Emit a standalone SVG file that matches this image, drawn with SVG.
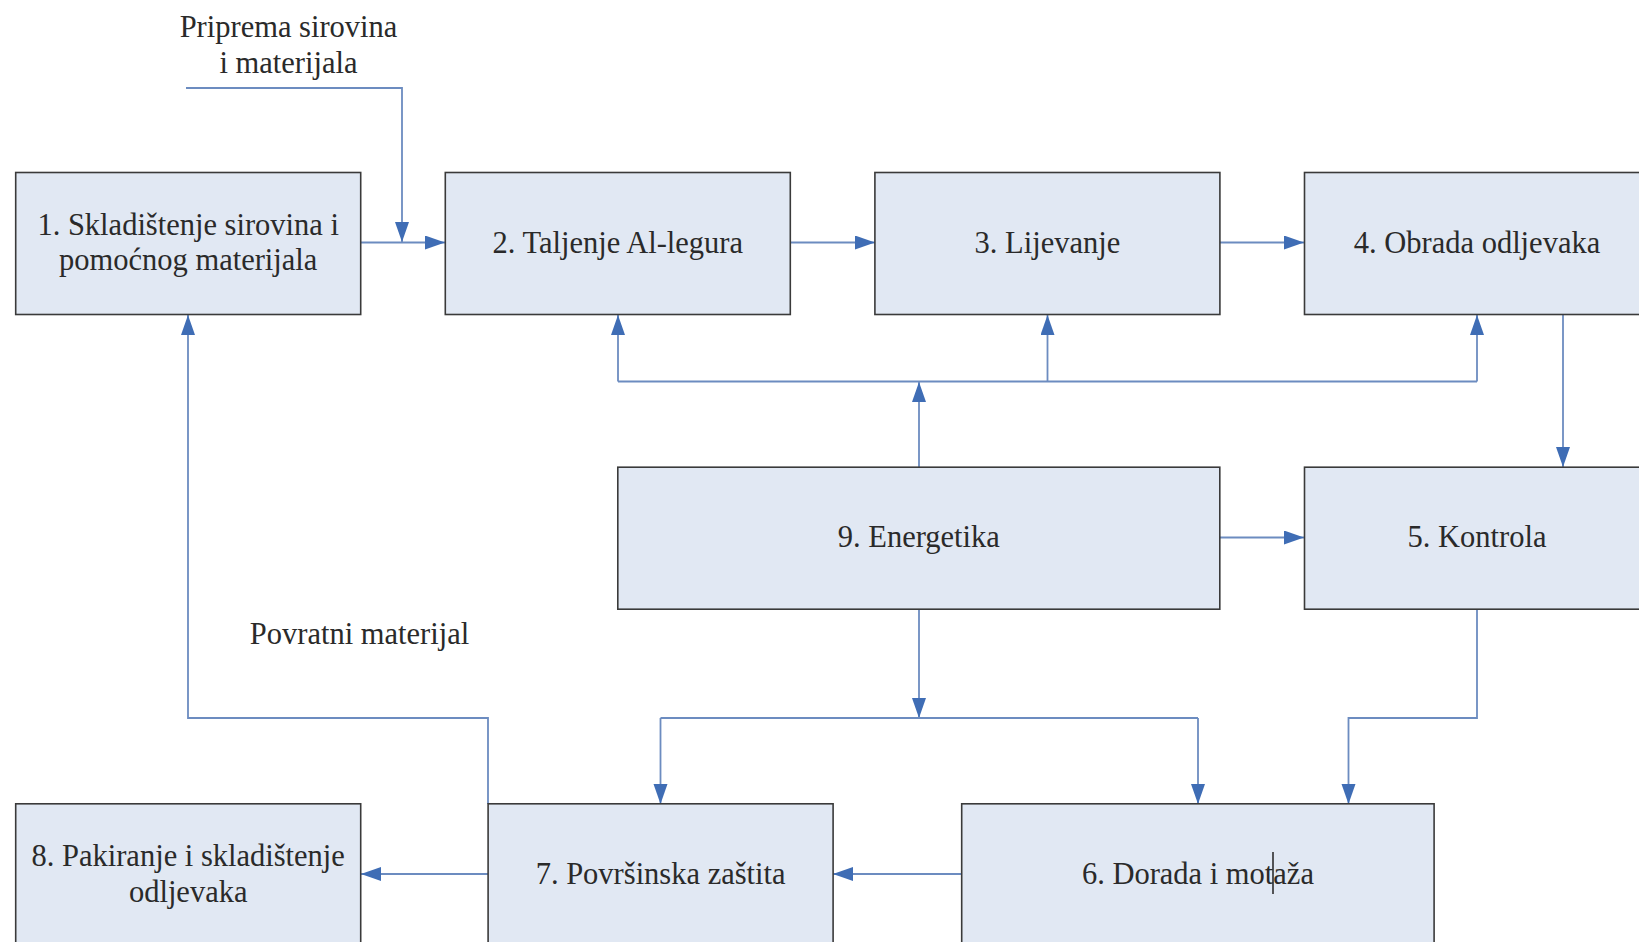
<svg xmlns="http://www.w3.org/2000/svg" width="1639" height="942" viewBox="0 0 1639 942">
<style>
.box{fill:#E1E8F3;stroke:#3a3a3a;stroke-width:1.6}
.t{font-family:"Liberation Serif","Times New Roman",serif;font-size:30.5px;fill:#2a2a2a;text-anchor:middle;dominant-baseline:central}
.c{fill:none;stroke:#6C8CC0;stroke-width:1.8}
.a{marker-end:url(#ah)}
</style>
<defs>
<marker id="ah" markerUnits="userSpaceOnUse" markerWidth="22" markerHeight="16" refX="20" refY="7" orient="auto">
<path d="M0,0 L20,7 L0,14 Z" fill="#3F6DB5"/>
</marker>
</defs>
<rect width="1639" height="942" fill="#ffffff"/>
<g id="connectors">
<polyline class="c a" points="186,88 402,88 402,242"/>
<line class="c a" x1="361" y1="242.5" x2="445" y2="242.5"/>
<line class="c a" x1="790" y1="242.5" x2="875" y2="242.5"/>
<line class="c a" x1="1220" y1="242.5" x2="1304" y2="242.5"/>
<line class="c a" x1="919" y1="467" x2="919" y2="382"/>
<line class="c" x1="618" y1="381.5" x2="1477" y2="381.5"/>
<line class="c a" x1="618" y1="381.5" x2="618" y2="315"/>
<line class="c a" x1="1047.5" y1="381.5" x2="1047.5" y2="315"/>
<line class="c a" x1="1477" y1="381.5" x2="1477" y2="315"/>
<line class="c a" x1="1563" y1="315" x2="1563" y2="467"/>
<line class="c a" x1="1220" y1="537.5" x2="1304" y2="537.5"/>
<line class="c a" x1="919" y1="609.5" x2="919" y2="718"/>
<line class="c" x1="660.5" y1="718" x2="1198" y2="718"/>
<line class="c a" x1="660.5" y1="718" x2="660.5" y2="804"/>
<line class="c a" x1="1198" y1="718" x2="1198" y2="804"/>
<polyline class="c a" points="1477,609.5 1477,718 1348.5,718 1348.5,804"/>
<line class="c a" x1="962" y1="874" x2="833" y2="874"/>
<line class="c a" x1="488" y1="874" x2="361" y2="874"/>
<polyline class="c a" points="488,804 488,718 188,718 188,315"/>
</g>
<g id="lbl-priprema">
<text class="t" x="288.5" y="27">Priprema sirovina</text>
<text class="t" x="288.5" y="63">i materijala</text>
</g>
<g id="lbl-povratni">
<text class="t" x="359.5" y="633.5">Povratni materijal</text>
</g>
<g id="n1">
<rect class="box" x="15.7" y="172.5" width="345" height="142"/>
<text class="t" x="188.2" y="224.7">1. Skladištenje sirovina i</text>
<text class="t" x="188.2" y="260.3">pomoćnog materijala</text>
</g>
<g id="n2">
<rect class="box" x="445.3" y="172.5" width="345" height="142"/>
<text class="t" x="617.8" y="242.5">2. Taljenje Al-legura</text>
</g>
<g id="n3">
<rect class="box" x="874.9" y="172.5" width="345" height="142"/>
<text class="t" x="1047.4" y="242.5">3. Lijevanje</text>
</g>
<g id="n4">
<rect class="box" x="1304.5" y="172.5" width="345" height="142"/>
<text class="t" x="1477" y="242.5">4. Obrada odljevaka</text>
</g>
<g id="n9">
<rect class="box" x="617.8" y="467.2" width="602" height="142"/>
<text class="t" x="918.8" y="537.3">9. Energetika</text>
</g>
<g id="n5">
<rect class="box" x="1304.5" y="467.2" width="345" height="142"/>
<text class="t" x="1477" y="537.3">5. Kontrola</text>
</g>
<g id="n8">
<rect class="box" x="15.7" y="803.8" width="345" height="150"/>
<text class="t" x="188.2" y="856.1">8. Pakiranje i skladištenje</text>
<text class="t" x="188.2" y="891.6">odljevaka</text>
</g>
<g id="n7">
<rect class="box" x="488.1" y="803.8" width="345" height="150"/>
<text class="t" x="660.6" y="873.9">7. Površinska zaštita</text>
</g>
<g id="n6">
<rect class="box" x="961.7" y="803.8" width="472.4" height="150"/>
<text class="t" x="1197.9" y="873.9">6. Dorada i motaža</text>
<line x1="1273" y1="852" x2="1273" y2="894" stroke="#222" stroke-width="1.5"/>
</g>
</svg>
